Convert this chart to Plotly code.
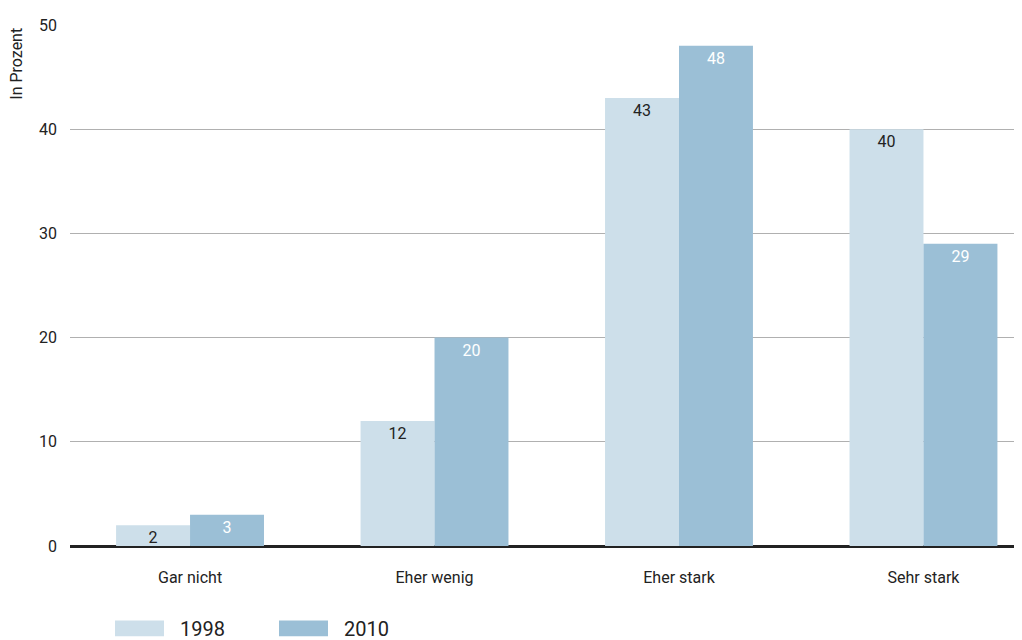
import plotly.graph_objects as go

categories = ["Gar nicht", "Eher wenig", "Eher stark", "Sehr stark"]
years = ["1998", "2010"]
values_1998 = [2, 12, 43, 40]
values_2010 = [3, 20, 48, 29]
y_ticks = [0, 10, 20, 30, 40, 50]

colors = {"1998": "#cddfea", "2010": "#9bbfd6"}
text_colors = {"1998": "#222222", "2010": "#ffffff"}
FONT = "Roboto, Lato, sans-serif"

fig = go.Figure()
for name, vals in zip(years, [values_1998, values_2010]):
    fig.add_trace(go.Bar(
        x=categories, y=vals, name=name,
        marker=dict(color=colors[name], line=dict(width=0)),
        text=[str(v) for v in vals], textposition="inside",
        insidetextanchor="end", textangle=0, constraintext="none",
        textfont=dict(color=text_colors[name], size=16, family=FONT),
        showlegend=False, cliponaxis=False,
    ))

W, H = 1022, 640
OFF = 8  # page body offset
ml, mr, mt, mb = 70 - OFF, OFF, 21 - OFF, H - (546 - OFF)
plot_w = W - ml - mr
plot_h = H - mt - mb


def px_x(p):
    return (p - OFF - ml) / plot_w


def px_y(p):
    return 1 - (p - OFF - mt) / plot_h


fig.update_layout(
    width=W, height=H,
    margin=dict(l=ml, r=mr, t=mt, b=mb),
    paper_bgcolor="white", plot_bgcolor="white",
    barmode="group", bargap=0.395, bargroupgap=0,
    font=dict(family=FONT, size=16, color="#222222"),
    xaxis=dict(range=[-0.491, 3.403], showgrid=False, showline=False,
               ticks="", ticklabelstandoff=20,
               tickfont=dict(size=16, color="#222222")),
    yaxis=dict(range=[0, 50], tickvals=y_ticks, showgrid=True,
               gridcolor="#b0b0b0", gridwidth=1, zeroline=True,
               zerolinecolor="#222222", zerolinewidth=2.5,
               showline=False, ticks="", ticklabelstandoff=12,
               tickfont=dict(size=16, color="#222222")),
    showlegend=False,
)

fig.add_annotation(text="In Prozent", xref="paper", yref="paper",
                   x=px_x(17), y=px_y(60),
                   textangle=-90, showarrow=False,
                   font=dict(size=16, color="#222222", family=FONT),
                   xanchor="center", yanchor="middle")

# legend built from the series names/colors
for i, name in enumerate(years):
    sx = 115 + i * 164
    fig.add_shape(type="rect", xref="paper", yref="paper",
                  x0=px_x(sx), x1=px_x(sx + 49),
                  y0=px_y(637), y1=px_y(621),
                  fillcolor=colors[name], line=dict(width=0))
    fig.add_annotation(text=name, xref="paper", yref="paper",
                       x=px_x(sx + 63), y=px_y(630),
                       xanchor="left", yanchor="middle", showarrow=False,
                       font=dict(size=20, color="#222222", family=FONT))

fig.write_html("out.html")
